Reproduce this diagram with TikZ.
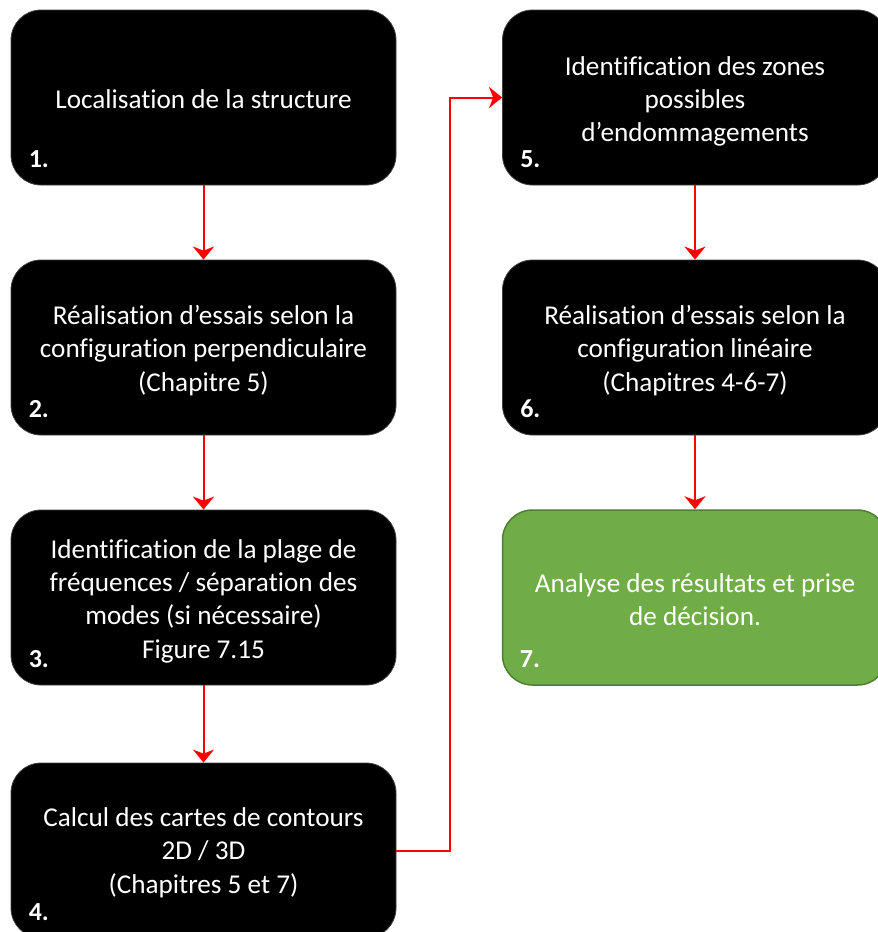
\documentclass[tikz,border=0pt]{standalone}
\usepackage{fontspec}
\setmainfont{Carlito}[Ligatures=NoCommon]
\usetikzlibrary{arrows.meta,calc}

\definecolor{stepgreen}{HTML}{70AD47}
\definecolor{stepgreenedge}{HTML}{507E32}
\definecolor{linkred}{HTML}{FF0000}

\tikzset{
  stepbox/.style={rectangle, rounded corners=30pt, minimum width=385pt,
    minimum height=175pt, fill=black, draw=black!75, line width=0.8pt},
  finalbox/.style={stepbox, fill=stepgreen, draw=stepgreenedge, line width=1.5pt},
  steptext/.style={text=white, align=center, inner sep=0pt,
    font=\fontsize{27.2}{33.3}\selectfont},
  stepnum/.style={anchor=base west, text=white, inner sep=0pt,
    font=\fontsize{26}{30}\selectfont\bfseries},
  link/.style={draw=linkred, line width=2pt,
    -{Stealth[length=13pt,width=21pt,inset=4pt]}}
}

\begin{document}
\begin{tikzpicture}[x=1pt,y=-1pt]
  \useasboundingbox (0,0) rectangle (878,932);

  % boxes: left column, then right column
  \node[stepbox] (b1) at (203.5,97.5) {};
  \node[stepbox] (b2) at (203.5,347.5) {};
  \node[stepbox] (b3) at (203.5,597.5) {};
  \node[stepbox] (b4) at (203.5,850.5) {};
  \node[stepbox] (b5) at (695,97.5) {};
  \node[stepbox] (b6) at (695,347.5) {};
  \node[finalbox] (b7) at (695,597.5) {};

  % box texts
  \node[steptext] (t1) at ($(b1)+(0,2)$) {Localisation de la structure};
  \node[steptext] (t2) at ($(b2)+(0,3)$) {Réalisation d’essais selon la\\configuration perpendiculaire\\(Chapitre 5)};
  \node[steptext] (t3) at ($(b3)+(0,3.5)$) {Identification de la plage de\\fréquences / séparation des\\modes (si nécessaire)\\Figure 7.15};
  \node[steptext] (t4) at ($(b4)+(0,2)$) {Calcul des cartes de contours\\2D / 3D\\(Chapitres 5 et 7)};
  \node[steptext] (t5) at ($(b5)+(0,4)$) {Identification des zones\\possibles\\d’endommagements};
  \node[steptext] (t6) at ($(b6)+(0,3)$) {Réalisation d’essais selon la\\configuration linéaire\\(Chapitres 4-6-7)};
  \node[steptext] (t7) at ($(b7)+(0,2)$) {Analyse des résultats et prise\\de décision.};

  % step numbers
  \foreach \b/\n in {b1/1,b2/2,b3/3,b4/4,b5/5,b6/6,b7/7}
    \node[stepnum] (n\b) at ($(\b.south west)+(18,-18)$) {\n.};

  % connectors
  \draw[link] (b1) -- (b2);
  \draw[link] (b2) -- (b3);
  \draw[link] (b3) -- (b4);
  \coordinate (turn) at (450,500);
  \draw[link] (b4.east) -| (turn) |- (b5.west);
  \draw[link] (b5) -- (b6);
  \draw[link] (b6) -- (b7);
\end{tikzpicture}
\end{document}
